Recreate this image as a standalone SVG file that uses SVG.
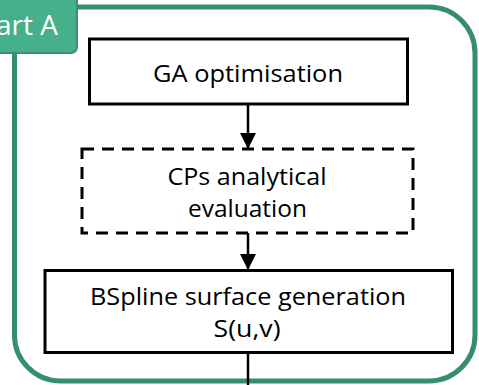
<svg xmlns="http://www.w3.org/2000/svg" width="479" height="385" viewBox="0 0 479 385">
  <defs>
    <marker id="ah" markerUnits="userSpaceOnUse" markerWidth="16" markerHeight="16" refX="16" refY="8" orient="auto">
      <path d="M0,0 L16,8 L0,16 Z" fill="#000"/>
    </marker>
    <style>
      .box { fill: #fff; stroke: #000; stroke-width: 3; }
      .dash { fill: #fff; stroke: #000; stroke-width: 3; stroke-dasharray: 12 8; }
      .t { font-family: "Open Sans", "Noto Sans", sans-serif; font-size: 24px; fill: #000; text-anchor: middle; }
      .conn { stroke: #000; stroke-width: 2.5; fill: none; }
    </style>
  </defs>
  <rect width="479" height="385" fill="#fff"/>
  <g id="container">
    <rect x="14.5" y="7" width="460.5" height="374" rx="46" ry="46" fill="none" stroke="#358e70" stroke-width="5"/>
  </g>
  <g id="label">
    <rect x="-40" y="-12" width="117" height="65" rx="6" ry="6" fill="#46b08c" stroke="#3a8f73" stroke-width="2"/>
    <text x="58" y="35" font-family="Open Sans, Noto Sans, sans-serif" font-size="28" fill="#fff" text-anchor="end">Part A</text>
  </g>
  <g id="connectors">
    <line class="conn" x1="248" y1="104" x2="248" y2="149" marker-end="url(#ah)"/>
    <line class="conn" x1="248" y1="233" x2="248" y2="270" marker-end="url(#ah)"/>
    <line class="conn" x1="248" y1="352" x2="248" y2="385"/>
  </g>
  <g id="ga">
    <rect class="box" x="89.5" y="39" width="318" height="65"/>
    <text class="t" x="248" y="82" textLength="190" lengthAdjust="spacingAndGlyphs">GA optimisation</text>
  </g>
  <g id="cps">
    <rect class="dash" x="82" y="149" width="331" height="84"/>
    <text class="t" x="247" y="185" textLength="159" lengthAdjust="spacingAndGlyphs">CPs analytical</text>
    <text class="t" x="247.5" y="217" textLength="119" lengthAdjust="spacingAndGlyphs">evaluation</text>
  </g>
  <g id="bspline">
    <rect class="box" x="45" y="270.5" width="407.5" height="82"/>
    <text class="t" x="248" y="305" textLength="316" lengthAdjust="spacingAndGlyphs">BSpline surface generation</text>
    <text class="t" x="247" y="337" textLength="67" lengthAdjust="spacingAndGlyphs">S(u,v)</text>
  </g>
</svg>
